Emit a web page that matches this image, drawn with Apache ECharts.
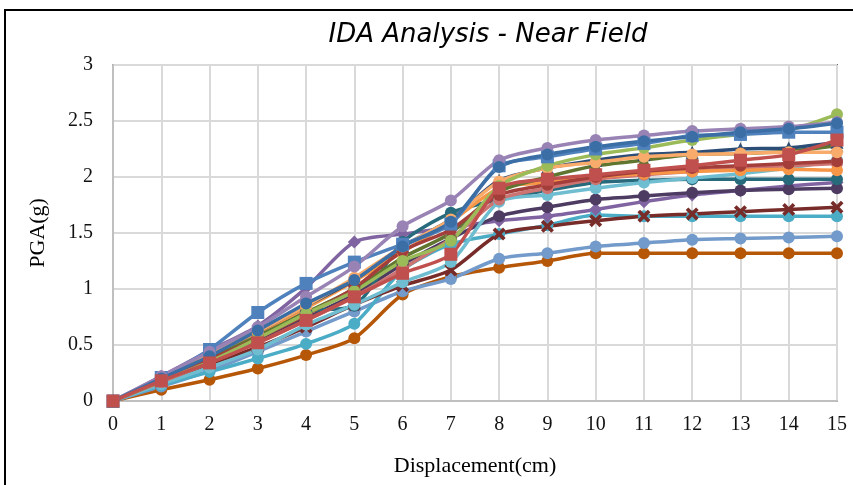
<!DOCTYPE html>
<html lang="en">

<head>
    <meta charset="UTF-8" />
    <title>IDA Analysis - Near Field</title>
    <script src="https://cdn.jsdelivr.net/npm/echarts@6/dist/echarts.min.js"></script>
    <style>
        html, body { margin: 0; padding: 0; background: #fff; }
        #main { width: 853px; height: 485px; }
    </style>
</head>

<body>
    <div id="main"></div>

    <script type="text/javascript">
        // displacement steps (cm)
        const displacement = [0, 1, 2, 3, 4, 5, 6, 7, 8, 9, 10, 11, 12, 13, 14, 15];
        const yTicks = [0, 0.5, 1, 1.5, 2, 2.5, 3];

        // PGA (g) for each near field record
        const gmBlueSquare   = [0, 0.21, 0.46, 0.79, 1.05, 1.24, 1.40, 1.58, 2.10, 2.18, 2.25, 2.30, 2.37, 2.38, 2.40, 2.40];
        const gmGreen        = [0, 0.18, 0.35, 0.56, 0.78, 0.98, 1.25, 1.43, 1.92, 2.10, 2.20, 2.26, 2.33, 2.38, 2.42, 2.56];
        const gmPurpleDiam   = [0, 0.22, 0.45, 0.67, 1.01, 1.42, 1.49, 1.55, 1.61, 1.65, 1.71, 1.78, 1.84, 1.88, 1.92, 1.95];
        const gmAqua         = [0, 0.14, 0.26, 0.38, 0.51, 0.69, 1.17, 1.40, 1.49, 1.57, 1.66, 1.65, 1.65, 1.65, 1.65, 1.65];
        const gmOrange       = [0, 0.20, 0.40, 0.60, 0.83, 1.07, 1.33, 1.60, 1.90, 1.95, 2.00, 2.03, 2.05, 2.06, 2.07, 2.06];
        const gmNavyTri      = [0, 0.21, 0.42, 0.62, 0.85, 1.08, 1.38, 1.62, 1.97, 2.08, 2.15, 2.20, 2.22, 2.25, 2.26, 2.31];
        const gmDarkRedX     = [0, 0.17, 0.33, 0.48, 0.66, 0.86, 1.03, 1.17, 1.49, 1.56, 1.61, 1.65, 1.67, 1.69, 1.71, 1.73];
        const gmDarkGreenTri = [0, 0.19, 0.38, 0.58, 0.79, 1.00, 1.28, 1.50, 1.87, 2.00, 2.10, 2.15, 2.20, 2.21, 2.23, 2.28];
        const gmDarkPurple   = [0, 0.17, 0.35, 0.54, 0.74, 0.95, 1.22, 1.45, 1.65, 1.73, 1.80, 1.83, 1.86, 1.88, 1.89, 1.90];
        const gmTeal         = [0, 0.20, 0.40, 0.60, 0.80, 0.85, 1.42, 1.68, 1.80, 1.88, 1.95, 1.97, 1.98, 1.98, 1.98, 1.98];
        const gmDarkOrange   = [0, 0.10, 0.19, 0.29, 0.41, 0.56, 0.95, 1.11, 1.19, 1.25, 1.32, 1.32, 1.32, 1.32, 1.32, 1.32];
        const gmLightBlue    = [0, 0.13, 0.27, 0.44, 0.62, 0.80, 0.98, 1.09, 1.27, 1.32, 1.38, 1.41, 1.44, 1.45, 1.46, 1.47];
        const gmSalmon       = [0, 0.17, 0.34, 0.52, 0.72, 0.93, 1.18, 1.45, 1.80, 1.90, 1.98, 2.02, 2.05, 2.08, 2.10, 2.12];
        const gmLightPurple  = [0, 0.22, 0.44, 0.66, 0.93, 1.20, 1.56, 1.79, 2.15, 2.26, 2.33, 2.37, 2.41, 2.43, 2.45, 2.49];
        const gmLightAqua    = [0, 0.15, 0.30, 0.46, 0.68, 0.86, 1.06, 1.24, 1.78, 1.84, 1.90, 1.95, 1.99, 2.03, 2.08, 2.15];
        const gmLightOrange  = [0, 0.20, 0.42, 0.62, 0.85, 1.10, 1.38, 1.62, 1.96, 2.08, 2.13, 2.18, 2.20, 2.21, 2.22, 2.22];
        const gmBlueCircle   = [0, 0.20, 0.40, 0.63, 0.87, 1.08, 1.38, 1.60, 2.09, 2.20, 2.27, 2.32, 2.36, 2.40, 2.43, 2.48];
        const gmRedCircle    = [0, 0.18, 0.37, 0.56, 0.77, 1.01, 1.34, 1.53, 1.84, 1.93, 2.00, 2.05, 2.08, 2.10, 2.12, 2.14];
        const gmRedSquare    = [0, 0.18, 0.34, 0.52, 0.72, 0.93, 1.14, 1.31, 1.90, 1.98, 2.02, 2.06, 2.10, 2.15, 2.20, 2.33];

        // x shaped marker (filled outline of a cross)
        const crossSymbol = 'path://M2,0 L5,3 L8,0 L10,2 L7,5 L10,8 L8,10 L5,7 L2,10 L0,8 L3,5 L0,2 Z';

        const records = [
            { data: gmDarkOrange, color: '#B65708', symbol: 'circle' },
            { data: gmLightBlue, color: '#729ACA', symbol: 'circle' },
            { data: gmAqua, color: '#4BACC6', symbol: 'circle' },
            { data: gmDarkRedX, color: '#772C2A', symbol: crossSymbol },
            { data: gmPurpleDiam, color: '#8064A2', symbol: 'diamond' },
            { data: gmDarkPurple, color: '#4D3B62', symbol: 'circle' },
            { data: gmTeal, color: '#276A7C', symbol: 'circle' },
            { data: gmLightAqua, color: '#6FBDD1', symbol: 'circle' },
            { data: gmSalmon, color: '#CD7371', symbol: 'circle' },
            { data: gmOrange, color: '#F79646', symbol: 'circle' },
            { data: gmDarkGreenTri, color: '#5F7530', symbol: 'triangle' },
            { data: gmNavyTri, color: '#2C4D75', symbol: 'triangle' },
            { data: gmRedCircle, color: '#A33E3B', symbol: 'circle' },
            { data: gmLightOrange, color: '#F9AB6B', symbol: 'circle' },
            { data: gmGreen, color: '#9BBB59', symbol: 'circle' },
            { data: gmBlueSquare, color: '#4F81BD', symbol: 'rect' },
            { data: gmLightPurple, color: '#9983B5', symbol: 'circle' },
            { data: gmBlueCircle, color: '#3A6EA5', symbol: 'circle' },
            { data: gmRedSquare, color: '#C0504D', symbol: 'rect' }
        ];

        const serif = '"Liberation Serif", "Times New Roman", serif';

        let options = {
            animation: false,
            backgroundColor: '#fff',
            title: {
                text: 'IDA Analysis - Near Field',
                left: 483,
                textAlign: 'center',
                top: 17,
                textStyle: {
                    fontFamily: '"DejaVu Sans", sans-serif',
                    fontStyle: 'italic',
                    fontWeight: 'normal',
                    fontSize: 26,
                    color: '#000'
                }
            },
            graphic: [{
                type: 'rect',
                shape: { x: 5, y: 10, width: 900, height: 600 },
                style: { fill: 'none', stroke: '#000', lineWidth: 2 },
                z: 100
            }],
            grid: {
                left: 113,
                right: 16,
                top: 65,
                bottom: 84,
                show: true,
                borderColor: '#000',
                borderWidth: 1.5
            },
            xAxis: {
                type: 'value',
                min: 0,
                max: 15,
                interval: 1,
                name: 'Displacement(cm)',
                nameLocation: 'middle',
                nameGap: 54,
                nameTextStyle: { fontFamily: serif, fontSize: 22, color: '#000' },
                axisLine: { lineStyle: { color: '#bfbfbf', width: 2 } },
                axisTick: { show: false },
                axisLabel: { fontFamily: serif, fontSize: 20, color: '#111', margin: 14 },
                splitLine: { lineStyle: { color: '#d9d9d9', width: 2 } }
            },
            yAxis: {
                type: 'value',
                min: yTicks[0],
                max: yTicks[yTicks.length - 1],
                interval: 0.5,
                name: 'PGA(g)',
                nameLocation: 'middle',
                nameGap: 64,
                nameTextStyle: { fontFamily: serif, fontSize: 22, color: '#000' },
                axisLine: { show: true, lineStyle: { color: '#bfbfbf', width: 2 } },
                axisTick: { show: false },
                axisLabel: { fontFamily: serif, fontSize: 20, color: '#111', margin: 20 },
                splitLine: { lineStyle: { color: '#d9d9d9', width: 2 } }
            },
            series: records.map((r, i) => ({
                name: 'GM' + (i + 1),
                type: 'line',
                smooth: 0.25,
                data: r.data.map((v, k) => [displacement[k], v]),
                symbol: r.symbol,
                symbolSize: r.symbol === 'circle' ? 12 : 13,
                lineStyle: { color: r.color, width: 3.5 },
                itemStyle: { color: r.color, borderWidth: 0 },
                clip: false
            }))
        };

        // Initialise the echarts instance based on the prepared div
        let myChart = echarts.init(document.getElementById('main'));
        myChart.setOption(options);
    </script>
</body>

</html>
